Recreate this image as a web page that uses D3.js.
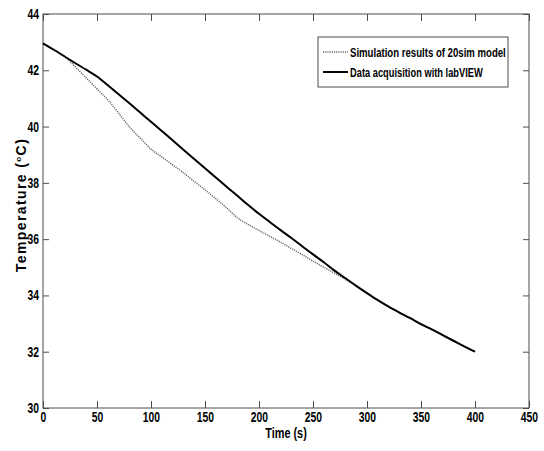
<!DOCTYPE html>
<html>
<head>
<meta charset="utf-8">
<script src="https://cdn.jsdelivr.net/npm/d3@7"></script>
<style>
  body { margin: 0; background: #fff; }
  text { font-family: "Liberation Sans", Arial, sans-serif; font-weight: bold; }
</style>
</head>
<body>
<script>
// time in seconds, sampled every 10 s
const time = [0, 10, 20, 30, 40, 50, 60, 70, 80, 90, 100, 110, 120, 130, 140, 150, 160, 170, 180, 190, 200,
  210, 220, 230, 240, 250, 260, 270, 280, 290, 300, 310, 320, 330, 340, 350, 360, 370, 380, 390, 400];

// measured temperature (labVIEW)
const labview = [42.96, 42.73, 42.49, 42.25, 42.02, 41.78, 41.47, 41.15, 40.83, 40.50, 40.17,
  39.84, 39.51, 39.18, 38.85, 38.52, 38.19, 37.86, 37.54, 37.21, 36.90,
  36.61, 36.32, 36.04, 35.75, 35.46, 35.18, 34.88, 34.61, 34.34, 34.08,
  33.83, 33.60, 33.39, 33.19, 32.98, 32.79, 32.59, 32.39, 32.19, 32.00];

// 20sim model output
const sim20 = [42.96, 42.73, 42.49, 42.12, 41.73, 41.34, 40.95, 40.48, 39.99, 39.59, 39.20,
  38.92, 38.64, 38.36, 38.05, 37.75, 37.44, 37.11, 36.76, 36.52, 36.31,
  36.10, 35.89, 35.67, 35.45, 35.22, 35.00, 34.79, 34.57, 34.34, 34.08,
  33.83, 33.60, 33.39, 33.19, 32.98, 32.79, 32.59, 32.39, 32.19, 32.00];

const xTicks = [0, 50, 100, 150, 200, 250, 300, 350, 400, 450];
const yTicks = [30, 32, 34, 36, 38, 40, 42, 44];
const legendLabels = ["Simulation results of 20sim model", "Data acquisition with labVIEW"];

const width = 544, height = 451;
const margin = {top: 14, right: 15, bottom: 43, left: 43};
const squeeze = 0.74; // condensed look of the original font

const svg = d3.select("body").append("svg")
    .attr("width", width)
    .attr("height", height);

const x = d3.scaleLinear().domain([0, 450]).range([margin.left, width - margin.right]);
const y = d3.scaleLinear().domain([30, 44]).range([height - margin.bottom, margin.top]);

const axisColor = "#4d4d4d";

function styleAxis(g) {
  g.select(".domain").remove();
  g.selectAll(".tick line").attr("stroke", axisColor);
  g.selectAll(".tick text")
      .attr("fill", "#000")
      .attr("font-size", 14)
      .attr("x", function() { return (+d3.select(this).attr("x") || 0) / squeeze; })
      .attr("transform", `scale(${squeeze},1)`);
}

// ticks point inward on all four sides
svg.append("g")
    .attr("transform", `translate(0,${y(30)})`)
    .call(d3.axisBottom(x).tickValues(xTicks).tickSize(-7).tickPadding(4))
    .call(styleAxis);

svg.append("g")
    .attr("transform", `translate(0,${y(44)})`)
    .call(d3.axisTop(x).tickValues(xTicks).tickSize(-7).tickFormat(""))
    .call(styleAxis);

svg.append("g")
    .attr("transform", `translate(${x(0)},0)`)
    .call(d3.axisLeft(y).tickValues(yTicks).tickSize(-6).tickPadding(4))
    .call(styleAxis);

svg.append("g")
    .attr("transform", `translate(${x(450)},0)`)
    .call(d3.axisRight(y).tickValues(yTicks).tickSize(-6).tickFormat(""))
    .call(styleAxis);

svg.append("rect")
    .attr("x", x(0)).attr("y", y(44))
    .attr("width", x(450) - x(0)).attr("height", y(30) - y(44))
    .attr("fill", "none")
    .attr("stroke", axisColor);

// series
const line = d3.line()
    .x((d, i) => x(time[i]))
    .y(d => y(d))
    .curve(d3.curveMonotoneX);

svg.append("path")
    .datum(sim20)
    .attr("fill", "none")
    .attr("stroke", "#606060")
    .attr("stroke-width", 1.5)
    .attr("stroke-dasharray", "1.1,1.1")
    .attr("d", line);

svg.append("path")
    .datum(labview)
    .attr("fill", "none")
    .attr("stroke", "#000")
    .attr("stroke-width", 2)
    .attr("d", line);

// axis labels
svg.append("text")
    .attr("transform", `translate(${(x(0) + x(450)) / 2},438) scale(${squeeze + 0.04},1)`)
    .attr("text-anchor", "middle")
    .attr("font-size", 14)
    .text("Time (s)");

const yl = svg.append("text")
    .attr("transform", `translate(26,${(y(30) + y(44)) / 2 - 6}) rotate(-90)`)
    .attr("text-anchor", "middle")
    .attr("font-size", 14)
    .attr("letter-spacing", 1.4);
yl.append("tspan").text("Temperature (");
yl.append("tspan").attr("font-size", 8).attr("dy", -5).text("o");
yl.append("tspan").attr("dy", 5).text("C)");

// legend
const lg = svg.append("g").attr("transform", "translate(318,37)");
lg.append("rect")
    .attr("width", 190).attr("height", 50)
    .attr("fill", "#fff")
    .attr("stroke", axisColor);

const styles = [
  {stroke: "#606060", width: 1.5, dash: "1.1,1.1", len: 156},
  {stroke: "#000", width: 2, dash: null, len: 133}
];

legendLabels.forEach((label, i) => {
  const row = lg.append("g").attr("transform", `translate(32,${15 + i * 20})`);
  row.append("line")
      .attr("x1", -27).attr("x2", -2)
      .attr("stroke", styles[i].stroke)
      .attr("stroke-width", styles[i].width)
      .attr("stroke-dasharray", styles[i].dash);
  const t = row.append("text")
      .attr("dy", "0.35em")
      .attr("font-size", 13.5)
      .text(label);
  const k = styles[i].len / t.node().getComputedTextLength();
  t.attr("transform", `scale(${k},1)`);
});
</script>
</body>
</html>
